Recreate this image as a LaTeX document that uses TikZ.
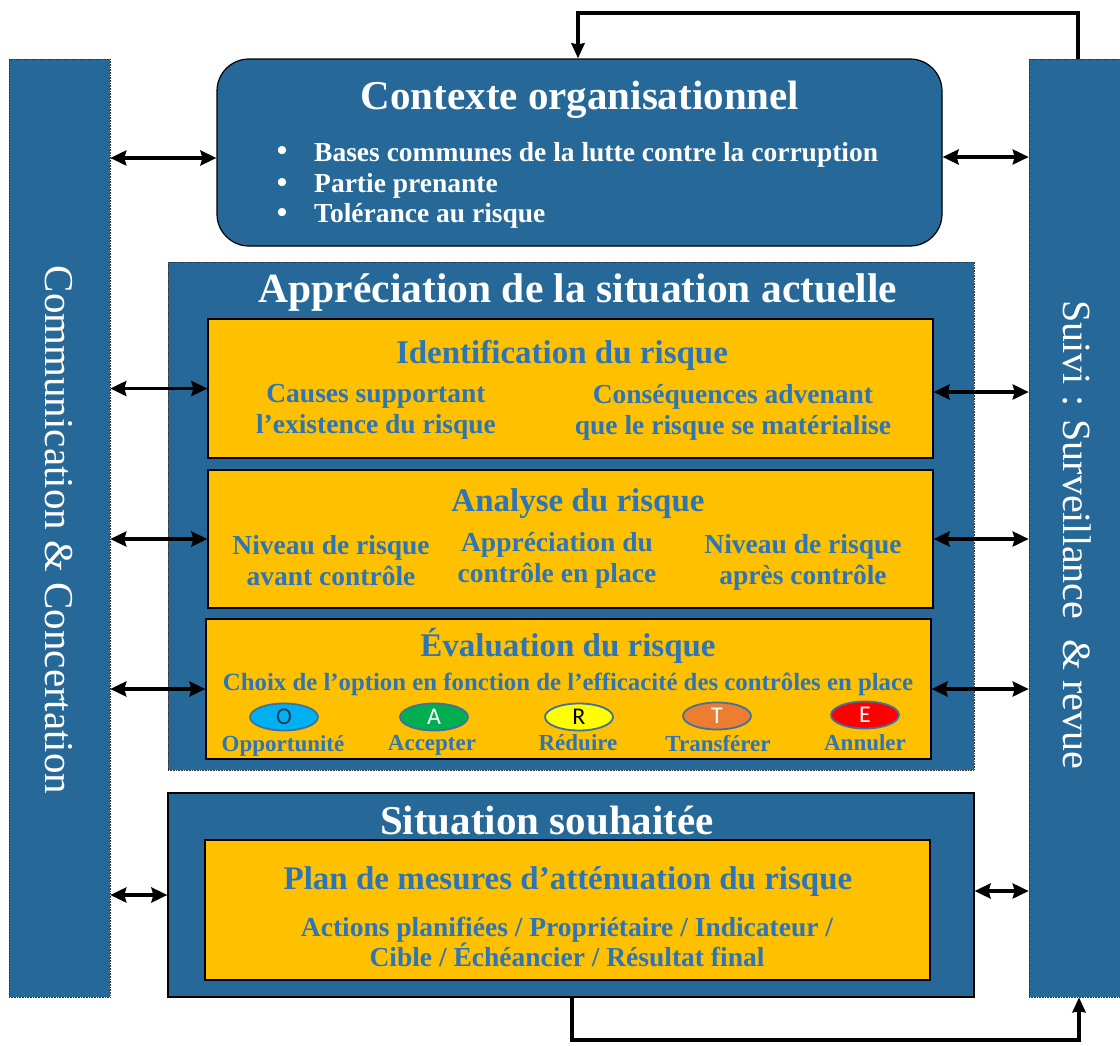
\documentclass[tikz,border=0pt]{standalone}
\usepackage{fontspec}
\setmainfont{Liberation Serif}
\newfontfamily\carl{Carlito}
\usetikzlibrary{arrows.meta,calc,shapes.geometric}
\definecolor{dblue}{RGB}{38,104,151}
\definecolor{ybox}{RGB}{255,192,0}
\definecolor{tblue}{RGB}{46,117,182}
\definecolor{eborder}{RGB}{65,113,156}
\definecolor{cO}{RGB}{0,176,240}
\definecolor{cA}{RGB}{0,176,80}
\definecolor{cR}{RGB}{255,255,0}
\definecolor{cT}{RGB}{237,125,49}
\definecolor{cE}{RGB}{255,0,0}
\definecolor{tO}{RGB}{31,56,100}
\tikzset{
  x=1pt,y=-1pt,
  col/.style={draw=black!80,densely dotted,line width=0.6pt,fill=dblue,inner sep=0},
  ybx/.style={draw=black,line width=1.2pt,fill=ybox,inner sep=0},
  dbl/.style={line width=3.4pt,{Stealth[length=16pt,width=15pt,inset=2pt]}-{Stealth[length=16pt,width=15pt,inset=2pt]}},
  fb/.style={line width=3.6pt,-{Stealth[length=15pt,width=13pt,inset=1pt]}},
  wt/.style={text=white,font=\bfseries},
  bt/.style={text=tblue,font=\bfseries,align=center},
  opt/.style={ellipse,draw=eborder,line width=1.8pt,minimum width=68pt,minimum height=27pt,inner sep=0,font=\carl\fontsize{24}{24}\selectfont},
  lab/.style={text=tblue,font=\bfseries\fontsize{23}{23}\selectfont,inner sep=0},
}
\begin{document}
\begin{tikzpicture}
\useasboundingbox (0,0) rectangle (1120,1045);
% columns
\node[col,minimum width=101pt,minimum height=938pt] (left) at (59.5,528) {};
\node[col,minimum width=91pt,minimum height=938pt] (right) at (1074.5,528) {};
\node[wt,rotate=-90,font=\fontsize{41}{41}\selectfont] (lt) at (59,530) {Communication \& Concertation};
\node[wt,rotate=-90,font=\fontsize{40}{40}\selectfont] (rt) at (1077,535) {Suivi : Surveillance\ \ \& revue};
% contexte
\node[draw=black,line width=1.2pt,fill=dblue,rounded corners=32pt,minimum width=725pt,minimum height=187pt,inner sep=0] (ctx) at (579.5,152.5) {};
\node[wt,font=\bfseries\fontsize{41}{41}\selectfont] (ctxt) at (580,100) {Contexte organisationnel};
\node[wt,font=\bfseries\fontsize{27.5}{27.5}\selectfont,anchor=west,inner sep=0] (b1) at (314,155) {Bases communes de la lutte contre la corruption};
\node[wt,font=\bfseries\fontsize{27.5}{27.5}\selectfont,anchor=west,inner sep=0] (b2) at (314,186) {Partie prenante};
\node[wt,font=\bfseries\fontsize{27.5}{27.5}\selectfont,anchor=west,inner sep=0] (b3) at (314,216) {Tolérance au risque};
\foreach \yy/\nm in {154/d1,185/d2,215/d3}{\node[wt,font=\bfseries\fontsize{30}{30}\selectfont] (\nm) at (282,\yy) {•};}
% appreciation
\node[col,minimum width=806pt,minimum height=508pt] (app) at (571,516) {};
\node[wt,font=\bfseries\fontsize{41.5}{41.5}\selectfont] (appt) at (578,292) {Appréciation de la situation actuelle};
% identification
\node[ybx,minimum width=725pt,minimum height=139pt] (idf) at (570.5,388.5) {};
\node[bt,font=\bfseries\fontsize{33}{33}\selectfont] (idft) at (562,355) {Identification du risque};
\node[bt,font=\bfseries\fontsize{27.5}{31}\selectfont] (idf1) at (376,412) {Causes supportant\\l’existence du risque};
\node[bt,font=\bfseries\fontsize{27.5}{31}\selectfont] (idf2) at (733,412) {Conséquences advenant\\que le risque se matérialise};
% analyse
\node[ybx,minimum width=725pt,minimum height=138pt] (ana) at (570.5,539) {};
\node[bt,font=\bfseries\fontsize{33}{33}\selectfont] (anat) at (578,504) {Analyse du risque};
\node[bt,font=\bfseries\fontsize{27.5}{31}\selectfont] (ana1) at (331,561) {Niveau de risque\\avant contrôle};
\node[bt,font=\bfseries\fontsize{27.5}{31}\selectfont] (ana2) at (557,560) {Appréciation du\\contrôle en place};
\node[bt,font=\bfseries\fontsize{27.5}{31}\selectfont] (ana3) at (803,562) {Niveau de risque\\après contrôle};
% evaluation
\node[ybx,minimum width=725pt,minimum height=140pt] (ev) at (568.5,689) {};
\node[bt,font=\bfseries\fontsize{33}{33}\selectfont] (evt) at (568,646) {Évaluation du risque};
\node[bt,font=\bfseries\fontsize{24.8}{24.8}\selectfont] (evc) at (568,684) {Choix de l’option en fonction de l’efficacité des contrôles en place};
\node[opt,fill=cO,text=tO] (o1) at (284,717) {O};
\node[opt,fill=cA,text=white] (o2) at (434,717) {A};
\node[opt,fill=cR,text=black] (o3) at (579,717) {R};
\node[opt,fill=cT,text=white] (o4) at (717,716) {T};
\node[opt,fill=cE,text=white] (o5) at (865,715) {E};
\node[lab] (l1) at (283,746) {Opportunité};
\node[lab] (l2) at (432,745) {Accepter};
\node[lab] (l3) at (578,743) {Réduire};
\node[lab] (l4) at (718,744) {Transférer};
\node[lab] (l5) at (865,743) {Annuler};
% situation
\node[draw=black,line width=1.2pt,fill=dblue,minimum width=806pt,minimum height=204pt,inner sep=0] (sit) at (571,895) {};
\node[wt,font=\bfseries\fontsize{41}{41}\selectfont] (sitt) at (547,820) {Situation souhaitée};
\node[ybx,minimum width=725pt,minimum height=140pt] (plan) at (567.5,910) {};
\node[bt,font=\bfseries\fontsize{33}{33}\selectfont] (plant) at (568,882) {Plan de mesures d’atténuation du risque};
\node[bt,font=\bfseries\fontsize{27.5}{30}\selectfont] (plan1) at (567,942) {Actions planifiées / Propriétaire / Indicateur /\\Cible / Échéancier / Résultat final};
% arrows
\draw[dbl] (left.east |- 0,158) -- (ctx.west |- 0,158);
\draw[dbl] (left.east |- idf.west) -- (idf.west);
\draw[dbl] (left.east |- ana.west) -- (ana.west);
\draw[dbl] (left.east |- ev.west) -- (ev.west);
\draw[dbl] (left.east |- sit.west) -- (sit.west);
\draw[dbl] (ctx.east |- 0,157) -- (right.west |- 0,157);
\draw[dbl] (idf.east |- 0,392) -- (right.west |- 0,392);
\draw[dbl] (ana.east) -- (right.west |- ana.east);
\draw[dbl] (ev.east) -- (right.west |- ev.east);
\draw[dbl] (sit.east |- 0,891) -- (right.west |- 0,891);
\draw[fb] (right.north -| 1078,0) -- (1078,13) -| (ctx.north -| 578,0);
\draw[fb] (sit.south -| 572,0) -- (572,1040) -| (right.south -| 1079,0);
\end{tikzpicture}
\end{document}
